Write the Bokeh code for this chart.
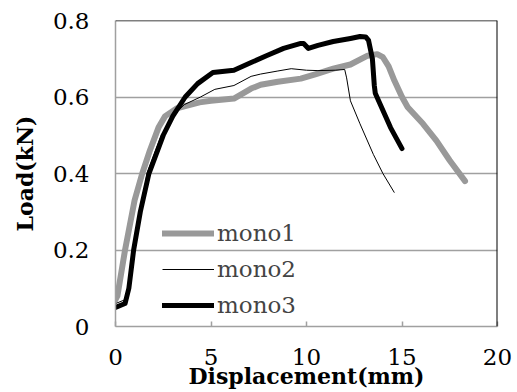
from bokeh.plotting import figure
from bokeh.models import Range1d, FixedTicker, Span, Legend, LegendItem, CustomJSTickFormatter
from bokeh.embed import file_html
from bokeh.resources import INLINE

# Data
mono1_x = [0, 0.1, 0.5, 1.0, 1.4, 1.8, 2.25, 2.6, 3.2, 4.4, 5.0, 6.2, 7.1, 7.6, 8.5, 9.7, 10.5, 11.4, 12.3, 13.2, 13.7, 14.0, 14.3, 14.6, 15.0, 15.3, 16.1, 16.8, 17.5, 18.3]
mono1_y = [0.07, 0.08, 0.2, 0.33, 0.40, 0.46, 0.52, 0.55, 0.57, 0.586, 0.59, 0.596, 0.622, 0.632, 0.64, 0.648, 0.66, 0.674, 0.685, 0.708, 0.712, 0.704, 0.68, 0.643, 0.60, 0.573, 0.53, 0.486, 0.434, 0.38]

mono2_x = [0, 0.5, 0.8, 1.0, 1.65, 2.4, 3.0, 3.6, 4.45, 5.2, 6.2, 7.1, 7.6, 8.5, 9.2, 10.0, 10.6, 11.5, 12.0, 12.1, 12.3, 12.8, 13.5, 14.0, 14.6]
mono2_y = [0.06, 0.07, 0.14, 0.2, 0.4, 0.5, 0.55, 0.58, 0.6, 0.62, 0.63, 0.654, 0.66, 0.668, 0.674, 0.67, 0.669, 0.67, 0.672, 0.65, 0.59, 0.53, 0.45, 0.40, 0.35]

mono3_x = [0, 0.5, 0.7, 0.95, 1.3, 1.75, 2.5, 3.0, 3.65, 4.3, 5.1, 6.2, 7.1, 7.9, 8.8, 9.7, 9.85, 10.1, 10.6, 11.4, 12.3, 12.8, 13.1, 13.25, 13.45, 13.55, 13.6, 14.4, 15.0]
mono3_y = [0.05, 0.06, 0.1, 0.2, 0.3, 0.4, 0.5, 0.55, 0.6, 0.635, 0.664, 0.67, 0.69, 0.708, 0.727, 0.74, 0.74, 0.727, 0.735, 0.745, 0.753, 0.758, 0.757, 0.748, 0.70, 0.63, 0.61, 0.52, 0.465]

x_ticks = [0, 5, 10, 15, 20]
y_ticks = [0, 0.2, 0.4, 0.6, 0.8]
x_title = "Displacement(mm)"
y_title = "Load(kN)"

FONT = "DejaVu Serif"
GRAY = "#a0a0a0"

p = figure(width=517, height=392, output_backend="svg", toolbar_location=None,
           x_range=Range1d(0, 20), y_range=Range1d(0, 0.8),
           min_border_left=115, min_border_right=20, min_border_top=20, min_border_bottom=66)
p.outline_line_color = None
p.background_fill_color = "white"

p.xgrid.visible = False
p.ygrid.ticker = FixedTicker(ticks=y_ticks)
p.ygrid.grid_line_color = GRAY
p.ygrid.grid_line_width = 1.5

p.xaxis.ticker = FixedTicker(ticks=x_ticks)
p.yaxis.ticker = FixedTicker(ticks=y_ticks)
p.yaxis.formatter = CustomJSTickFormatter(code="return tick == 0 ? '0' : tick.toFixed(1);")
for ax in (p.xaxis, p.yaxis):
    ax.axis_line_color = GRAY
    ax.axis_line_width = 1.5
    ax.major_tick_line_color = GRAY
    ax.major_tick_line_width = 1.5
    ax.minor_tick_line_color = None
    ax.major_label_text_font = FONT
    ax.major_label_text_font_size = "23px"
    ax.major_label_text_color = "black"
    ax.axis_label_text_font = FONT
    ax.axis_label_text_font_style = "bold"
    ax.axis_label_text_font_size = "22px"
    ax.axis_label_text_color = "black"
p.xaxis.major_tick_in = 5
p.xaxis.major_tick_out = 0
p.xaxis.major_label_standoff = 22
p.xaxis.axis_label = x_title
p.xaxis.axis_label_standoff = -5
p.yaxis.major_tick_in = 0
p.yaxis.major_tick_out = 0
p.yaxis.major_label_standoff = 26
p.yaxis.axis_label = y_title
p.yaxis.axis_label_standoff = 12

p.add_layout(Span(location=0.8, dimension="width", line_color="black", line_width=1.5))
p.add_layout(Span(location=20, dimension="height", line_color="black", line_width=2))

r1 = p.line(mono1_x, mono1_y, line_color="#999999", line_width=6, line_join="round", line_cap="round")
r2 = p.line(mono2_x, mono2_y, line_color="black", line_width=1, line_join="round")
r3 = p.line(mono3_x, mono3_y, line_color="black", line_width=5, line_join="round", line_cap="round")

legend = Legend(items=[LegendItem(label="mono1", renderers=[r1]),
                       LegendItem(label="mono2", renderers=[r2]),
                       LegendItem(label="mono3", renderers=[r3])],
                location=(47, 6), margin=0, padding=0, spacing=6,
                glyph_width=52, glyph_height=30, label_height=30, label_standoff=3,
                label_text_font=FONT, label_text_font_size="23px",
                background_fill_alpha=0, border_line_color=None)
p.add_layout(legend)

open("out.html", "w").write(file_html(p, INLINE))
